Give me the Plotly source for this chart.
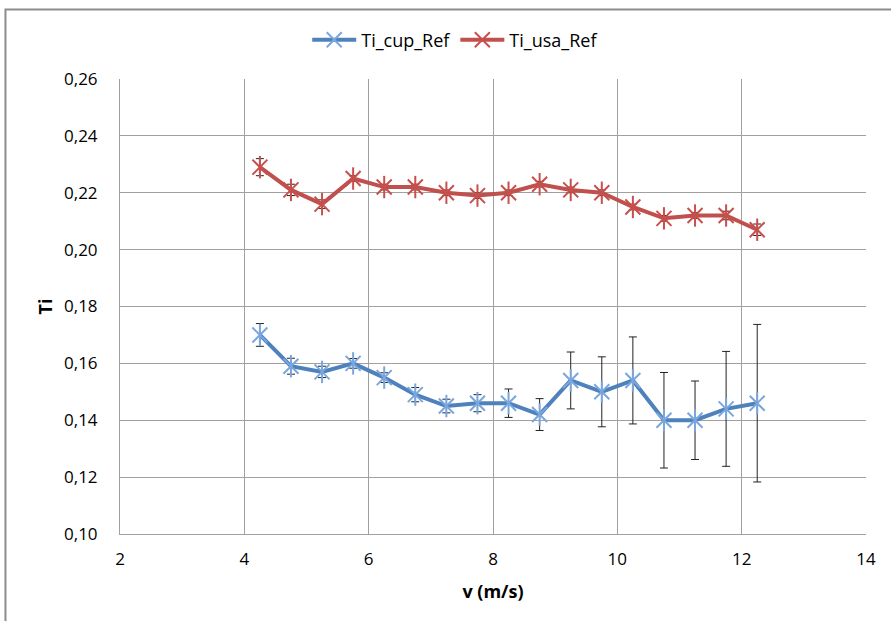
import plotly.graph_objects as go

v = [4.25, 4.75, 5.25, 5.75, 6.25, 6.75, 7.25, 7.75, 8.25, 8.75,
     9.25, 9.75, 10.25, 10.75, 11.25, 11.75, 12.25]

ti_cup = [0.170, 0.159, 0.157, 0.160, 0.155, 0.149, 0.145, 0.146, 0.146, 0.142,
          0.154, 0.150, 0.154, 0.140, 0.140, 0.144, 0.146]
ti_cup_err = [0.004, 0.0028, 0.002, 0.0017, 0.0017, 0.0025, 0.0024, 0.003, 0.005, 0.0056,
              0.010, 0.0123, 0.0153, 0.0168, 0.0138, 0.0202, 0.0277]

ti_usa = [0.229, 0.221, 0.216, 0.225, 0.222, 0.222, 0.220, 0.219, 0.220, 0.223,
          0.221, 0.220, 0.215, 0.211, 0.212, 0.212, 0.207]
ti_usa_err = [0.003, 0.002, 0.0015, 0.001, 0.001, 0.001, 0.001, 0.001, 0.001, 0.001,
              0.001, 0.001, 0.001, 0.001, 0.001, 0.0015, 0.002]

y_ticks = [0.10, 0.12, 0.14, 0.16, 0.18, 0.20, 0.22, 0.24, 0.26]
x_ticks = [2, 4, 6, 8, 10, 12, 14]

FONT = "Open Sans"
BLUE = "#4F81BD"
BLUE_M = "#7AA6DE"
RED = "#C0504D"
RED_M = "#C84F4C"

fig = go.Figure()


def add_series(x, y, err, name, lc, mc):
    fig.add_trace(go.Scatter(
        x=x, y=y, name=name, mode="lines+markers",
        line=dict(color=lc, width=4),
        marker=dict(symbol="x-thin-open", size=15, color=mc,
                    line=dict(color=mc, width=2)),
        error_y=dict(type="data", array=err, visible=True,
                     color="#222222", thickness=1, width=4),
        legendgroup=name,
    ))
    fig.add_trace(go.Scatter(
        x=x, y=y, name=name, mode="markers", showlegend=False,
        marker=dict(symbol="line-ns-open", size=16, color=mc,
                    line=dict(color=mc, width=2)),
        legendgroup=name, hoverinfo="skip",
    ))


add_series(v, ti_cup, ti_cup_err, "Ti_cup_Ref", BLUE, BLUE_M)
add_series(v, ti_usa, ti_usa_err, "Ti_usa_Ref", RED, RED_M)

W, H = 891, 621
L, R, T, B = 119.6, 25, 79, 87
pw = W - L - R
ph = H - T - B

fig.add_shape(type="rect", xref="paper", yref="paper",
              x0=(5 - L) / pw, x1=1 + (R + 30) / pw,
              y0=-(B + 30) / ph, y1=1 + (T - 9.5) / ph,
              line=dict(color="#8c8c8c", width=2), fillcolor="rgba(0,0,0,0)",
              layer="below")

fig.update_layout(
    width=W, height=H,
    margin=dict(l=L, r=R, t=T, b=B),
    paper_bgcolor="white", plot_bgcolor="white",
    separators=",.",
    font=dict(family=FONT, size=17, color="#000000"),
    showlegend=True,
    legend=dict(orientation="h", x=(455 - L) / pw, xanchor="center",
                y=1 + (T - 40) / ph, yanchor="middle",
                font=dict(family=FONT, size=18), itemwidth=44,
                bgcolor="rgba(0,0,0,0)"),
    xaxis=dict(range=[2, 14], tickvals=x_ticks, ticks="",
               showgrid=True, gridcolor="#a0a0a0", gridwidth=1,
               showline=True, linecolor="#a0a0a0", linewidth=1, mirror=False,
               zeroline=False, ticklabelstandoff=10,
               tickfont=dict(family=FONT, size=17),
               title=dict(text="<b>v (m/s)</b>", font=dict(family=FONT, size=18),
                          standoff=15)),
    yaxis=dict(range=[0.10, 0.26], tickvals=y_ticks, tickformat=".2f", ticks="",
               showgrid=True, gridcolor="#a0a0a0", gridwidth=1,
               showline=True, linecolor="#a0a0a0", linewidth=1,
               zeroline=False, ticklabelstandoff=18,
               tickfont=dict(family=FONT, size=17),
               title=dict(text="<b>Ti</b>", font=dict(family=FONT, size=18),
                          standoff=6)),
)

fig.write_html("out.html", config={"displayModeBar": False},
               post_script="document.body.style.margin='0';")
